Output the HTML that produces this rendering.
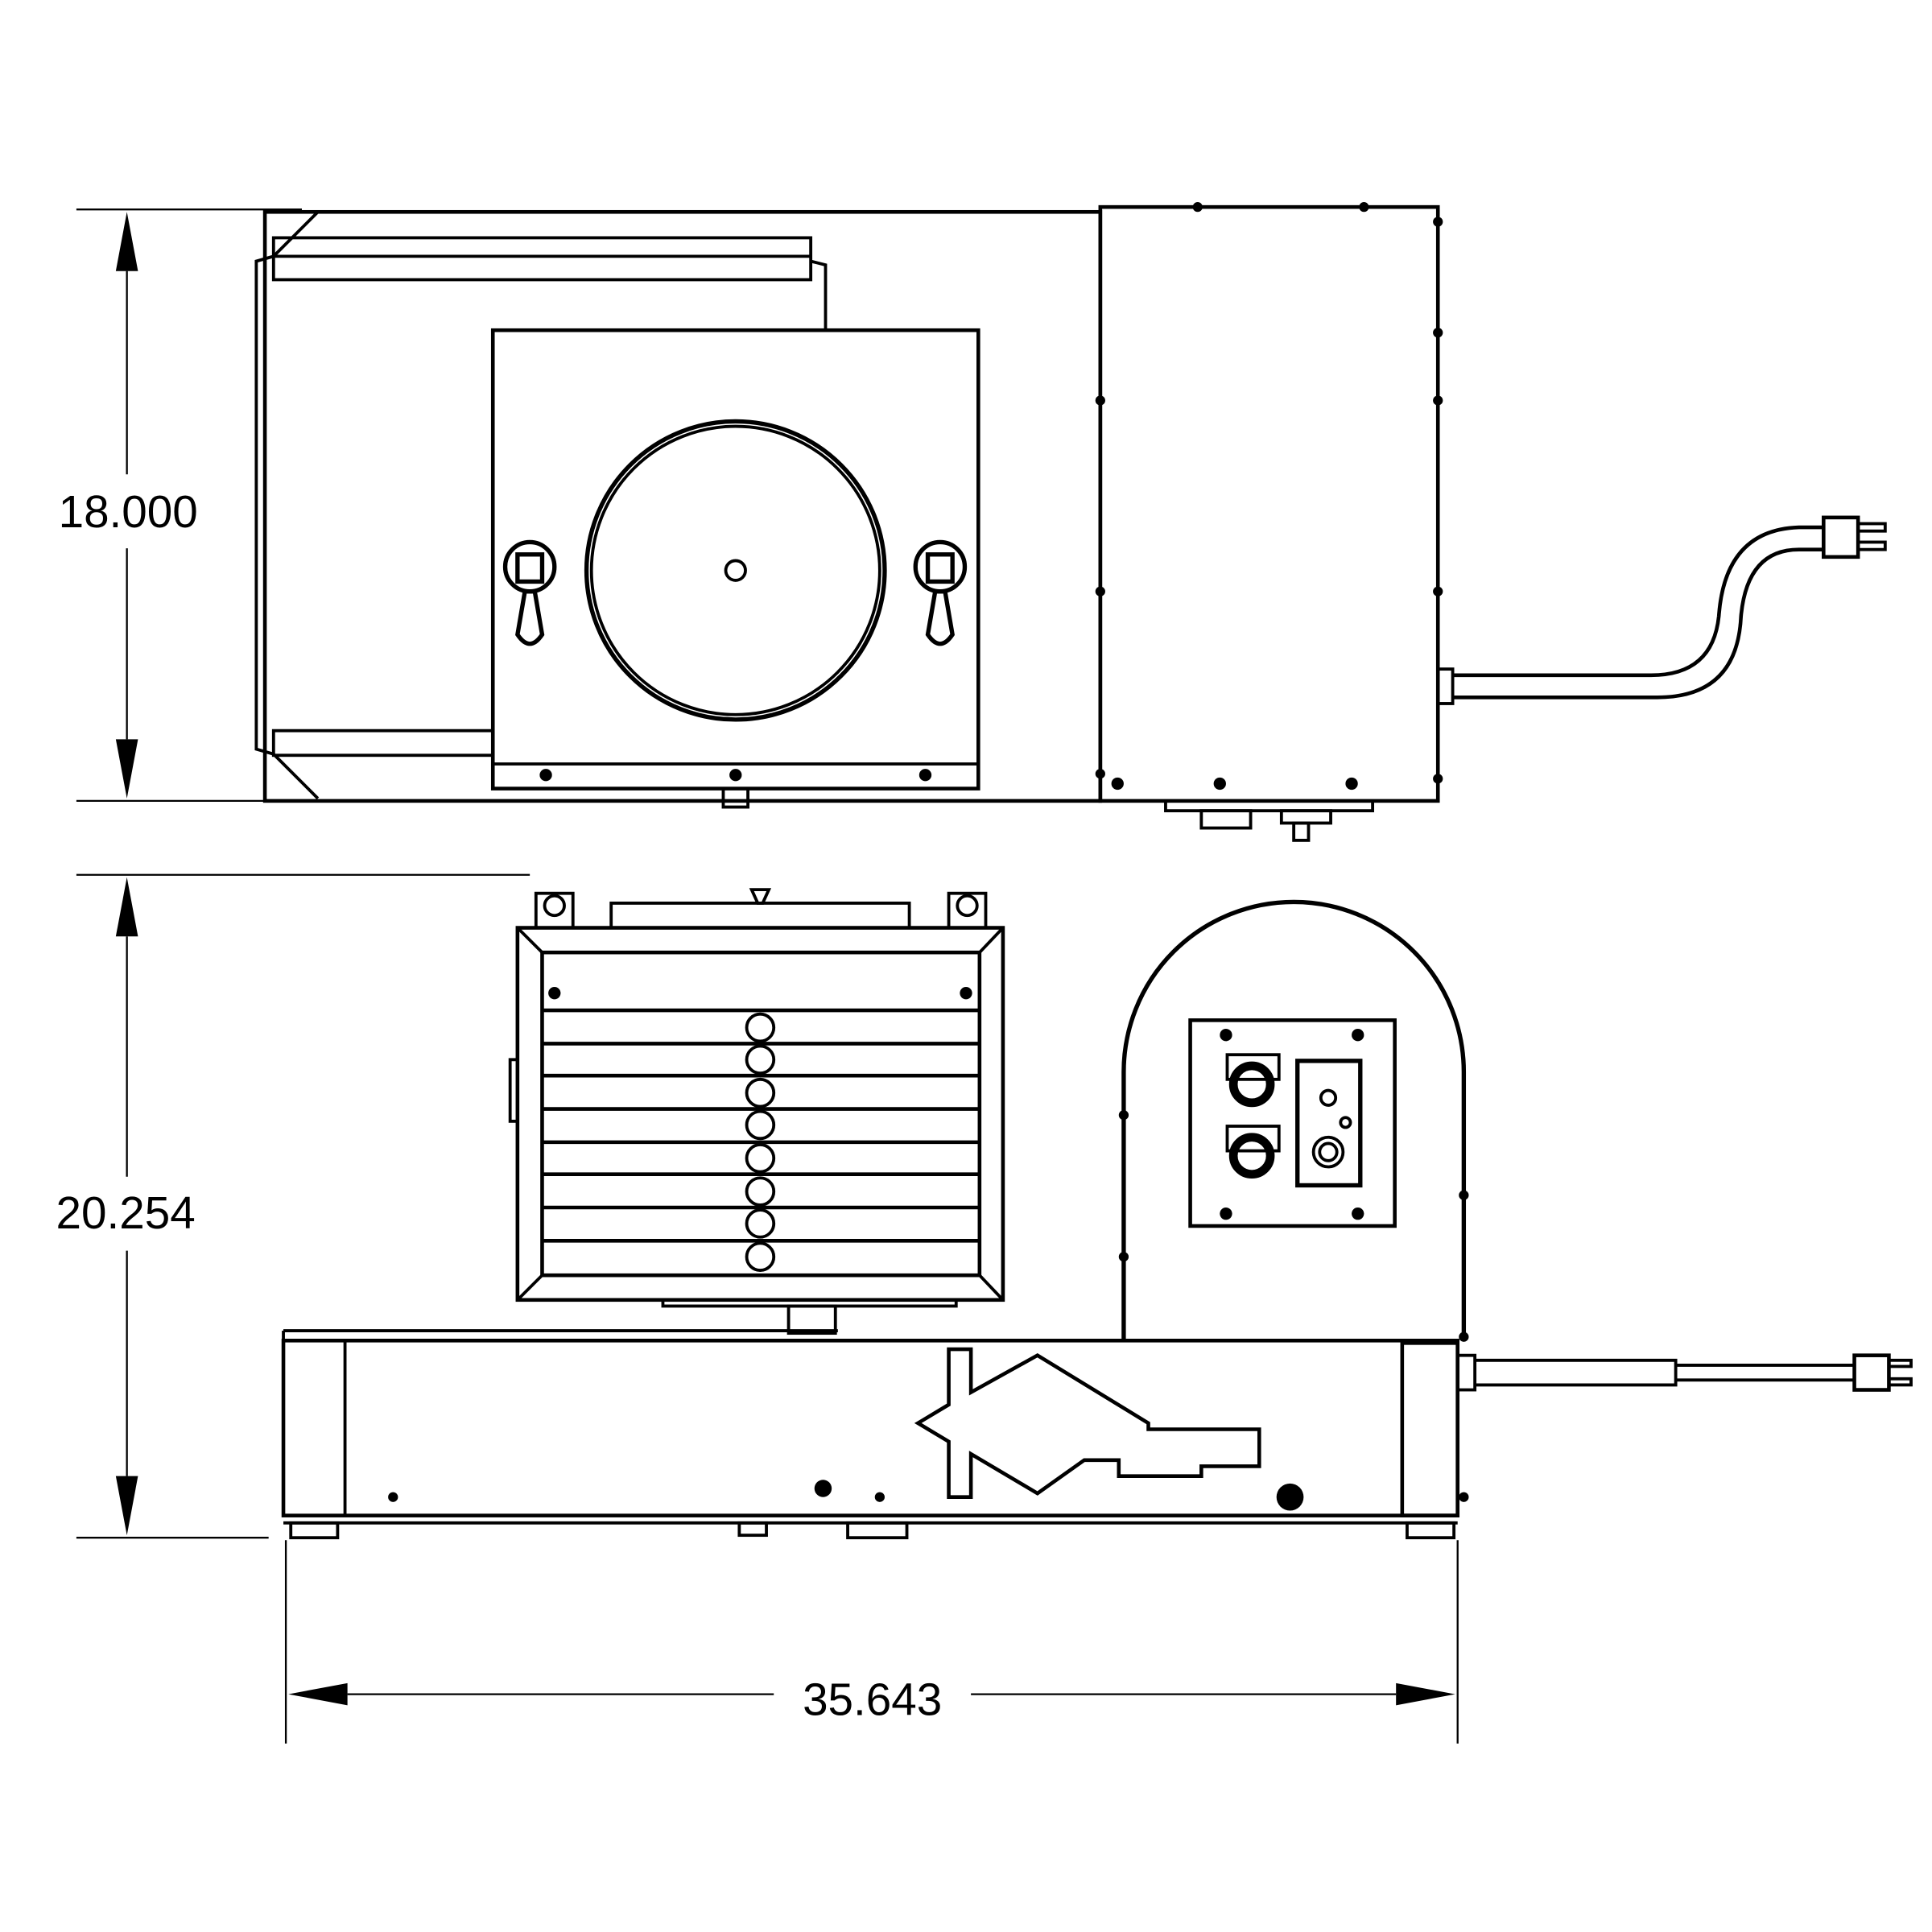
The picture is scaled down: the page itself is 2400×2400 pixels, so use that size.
<!DOCTYPE html>
<html><head><style>html,body{margin:0;padding:0;background:#fff}svg{display:block}</style></head>
<body>
<svg width="2400" height="2400" viewBox="0 0 1568 1568" xmlns="http://www.w3.org/2000/svg" font-family="Liberation Sans, sans-serif">
<g fill="none" stroke="#000" stroke-width="2.5">
<!-- Top view dims -->
<line x1="62" y1="170" x2="245" y2="170" stroke-width="1.5"/>
<line x1="62" y1="650" x2="245" y2="650" stroke-width="1.5"/>
<line x1="103" y1="220" x2="103" y2="385" stroke-width="1.5"/>
<line x1="103" y1="445" x2="103" y2="600" stroke-width="1.5"/>
<!-- top view body -->
<rect x="215" y="172" width="678" height="478" stroke-width="3"/>
<polyline points="258,172 222,208 208,212 208,608 222,612 258,648"/>
<rect x="222" y="193" width="436" height="34"/>
<line x1="222" y1="208" x2="658" y2="208"/>
<polyline points="658,212 670,215 670,268"/>
<rect x="222" y="593" width="178" height="20"/>
<rect x="400" y="268" width="394" height="372" stroke-width="3"/>
<line x1="400" y1="620" x2="794" y2="620"/>
<circle cx="597" cy="463" r="121" stroke-width="3.5"/>
<circle cx="597" cy="463" r="117"/>
<circle cx="597" cy="463" r="8"/>
<rect x="587" y="640" width="20" height="15"/>
<rect x="893" y="168" width="274" height="482" stroke-width="3"/>
<rect x="946" y="650" width="168" height="8"/>
<rect x="975" y="658" width="40" height="14"/>
<rect x="1040" y="658" width="40" height="10"/>
<rect x="1050" y="668" width="12" height="14"/>
<!-- latches top -->
<g id="lt">
<circle cx="430" cy="460" r="20" stroke-width="3.5"/>
<rect x="420" y="450" width="20" height="22" stroke-width="3.5"/>
<path d="M426 480 L434 480 L440 515 Q430 530 420 515 Z" stroke-width="3.5"/>
</g>
<use href="#lt" x="333"/>
<!-- cord top -->
<rect x="1167" y="543" width="12" height="28"/>
<path d="M1179 548 L1340 548 Q1390 548 1395 500 Q1400 430 1460 428 L1480 428" stroke-width="3"/>
<path d="M1179 566 L1345 566 Q1410 566 1413 500 Q1418 446 1460 446 L1480 446" stroke-width="3"/>
<rect x="1480" y="420" width="28" height="32" stroke-width="3"/>
<rect x="1508" y="425" width="22" height="6"/><rect x="1508" y="440" width="22" height="6"/>
<!-- Side view dims -->
<line x1="62" y1="710" x2="430" y2="710" stroke-width="1.5"/>
<line x1="62" y1="1248" x2="218" y2="1248" stroke-width="1.5"/>
<line x1="103" y1="760" x2="103" y2="955" stroke-width="1.5"/>
<line x1="103" y1="1015" x2="103" y2="1198" stroke-width="1.5"/>
<line x1="232" y1="1250" x2="232" y2="1415" stroke-width="1.5"/>
<line x1="1183" y1="1250" x2="1183" y2="1415" stroke-width="1.5"/>
<line x1="282" y1="1375" x2="628" y2="1375" stroke-width="1.5"/>
<line x1="788" y1="1375" x2="1133" y2="1375" stroke-width="1.5"/>
<!-- base -->
<rect x="230" y="1088" width="953" height="142" stroke-width="3"/>
<line x1="230" y1="1080" x2="680" y2="1080"/>
<line x1="230" y1="1080" x2="230" y2="1088"/>
<rect x="230" y="1088" width="50" height="142"/>
<line x1="230" y1="1236" x2="1183" y2="1236"/>
<rect x="236" y="1236" width="38" height="12"/>
<rect x="1142" y="1236" width="38" height="12"/>
<rect x="600" y="1236" width="22" height="10"/>
<rect x="688" y="1236" width="48" height="12"/>
<!-- arch tower -->
<path d="M912 1088 L912 870 A138 138 0 0 1 1188 870 L1188 1088" stroke-width="3.5"/>
<rect x="966" y="828" width="166" height="167" stroke-width="3"/>
<rect x="1053" y="861" width="51" height="101" stroke-width="3.5"/>
<circle cx="1078" cy="891" r="6"/><circle cx="1092" cy="911" r="4"/>
<circle cx="1078" cy="935" r="12"/><circle cx="1078" cy="935" r="7"/>
<circle cx="1016" cy="880" r="15" stroke-width="7"/>
<circle cx="1016" cy="938" r="15" stroke-width="7"/>
<rect x="996" y="856" width="42" height="20"/><rect x="996" y="914" width="42" height="20"/>
<rect x="1138" y="1090" width="45" height="140" stroke-width="3"/>
<!-- cord side -->
<rect x="1183" y="1100" width="14" height="28"/>
<path d="M1197 1104 L1360 1104 L1360 1124 L1197 1124"/>
<path d="M1360 1108 L1505 1108 L1505 1120 L1360 1120"/>
<rect x="1505" y="1100" width="28" height="28" stroke-width="3"/>
<rect x="1533" y="1104" width="18" height="5"/><rect x="1533" y="1119" width="18" height="5"/>
<!-- arrow shape -->
<polygon points="770,1095 788,1095 788,1130 842,1100 932,1155 932,1160 1022,1160 1022,1190 975,1190 975,1198 908,1198 908,1185 880,1185 842,1212 788,1180 788,1215 770,1215 770,1170 745,1155 770,1140" stroke-width="3"/>
<!-- grille -->
<rect x="420" y="753" width="394" height="302" stroke-width="3"/>
<rect x="440" y="773" width="355" height="262" stroke-width="3"/>
<line x1="420" y1="753" x2="440" y2="773"/><line x1="814" y1="753" x2="795" y2="773"/>
<line x1="420" y1="1055" x2="440" y2="1035"/><line x1="814" y1="1055" x2="795" y2="1035"/>
<g stroke-width="3">
<line x1="440" y1="820" x2="795" y2="820"/><line x1="440" y1="847" x2="795" y2="847"/>
<line x1="440" y1="873" x2="795" y2="873"/><line x1="440" y1="900" x2="795" y2="900"/>
<line x1="440" y1="927" x2="795" y2="927"/><line x1="440" y1="953" x2="795" y2="953"/>
<line x1="440" y1="980" x2="795" y2="980"/><line x1="440" y1="1007" x2="795" y2="1007"/>
</g>
<g fill="#fff">
<circle cx="617" cy="834" r="11"/><circle cx="617" cy="860" r="11"/><circle cx="617" cy="887" r="11"/>
<circle cx="617" cy="913" r="11"/><circle cx="617" cy="940" r="11"/><circle cx="617" cy="967" r="11"/>
<circle cx="617" cy="993" r="11"/><circle cx="617" cy="1020" r="11"/>
</g>
<rect x="496" y="733" width="242" height="20"/>
<path d="M610 722 L624 722 L619 733 L615 733 Z"/>
<rect x="538" y="1055" width="238" height="5"/>
<rect x="640" y="1060" width="38" height="22"/>
<rect x="435" y="725" width="30" height="28"/><circle cx="450" cy="735" r="8"/>
<rect x="770" y="725" width="30" height="28"/><circle cx="785" cy="735" r="8"/>
<rect x="414" y="860" width="6" height="50"/>
</g>
<g fill="#000">
<polygon points="103,172 94,220 112,220"/><polygon points="103,648 94,600 112,600"/>
<polygon points="103,712 94,760 112,760"/><polygon points="103,1246 94,1198 112,1198"/>
<polygon points="234,1375 282,1366 282,1384"/><polygon points="1181,1375 1133,1366 1133,1384"/>
<circle cx="443" cy="629" r="5"/><circle cx="597" cy="629" r="5"/><circle cx="751" cy="629" r="5"/>
<circle cx="907" cy="636" r="5"/><circle cx="990" cy="636" r="5"/><circle cx="1097" cy="636" r="5"/>
<circle cx="450" cy="806" r="5"/><circle cx="784" cy="806" r="5"/>
<circle cx="668" cy="1208" r="7"/><circle cx="319" cy="1215" r="4"/><circle cx="714" cy="1215" r="4"/>
<circle cx="1047" cy="1215" r="11"/>
<circle cx="995" cy="840" r="5"/><circle cx="1102" cy="840" r="5"/>
<circle cx="995" cy="985" r="5"/><circle cx="1102" cy="985" r="5"/>
<circle cx="972" cy="168" r="4"/><circle cx="1107" cy="168" r="4"/><circle cx="1167" cy="180" r="4"/>
<circle cx="1167" cy="270" r="4"/><circle cx="1167" cy="325" r="4"/><circle cx="1167" cy="480" r="4"/><circle cx="1167" cy="632" r="4"/>
<circle cx="893" cy="325" r="4"/><circle cx="893" cy="480" r="4"/><circle cx="893" cy="628" r="4"/>
<circle cx="1188" cy="970" r="4"/><circle cx="1188" cy="1085" r="4"/><circle cx="1188" cy="1215" r="4"/>
<circle cx="912" cy="905" r="4"/><circle cx="912" cy="1020" r="4"/>
</g>
<g font-size="37" text-anchor="middle" fill="#000">
<text x="104" y="428">18.000</text>
<text x="102" y="997">20.254</text>
<text x="708" y="1392">35.643</text>
</g>
</svg>
</body></html>
